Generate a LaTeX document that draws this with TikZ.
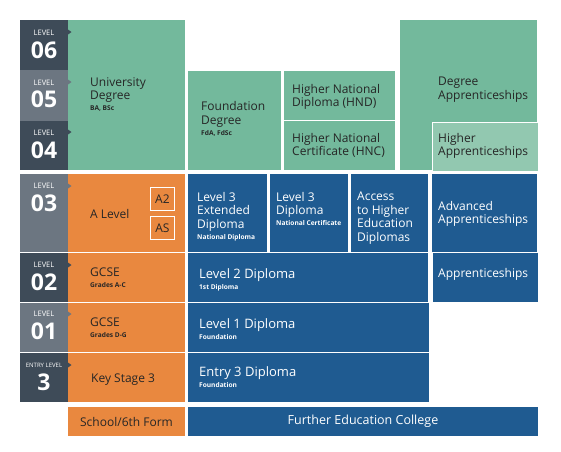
\documentclass[tikz,border=0pt]{standalone}
\usepackage{fontspec}
\setmainfont{Open Sans}
\definecolor{lvdark}{HTML}{3E4B58}
\definecolor{lvlight}{HTML}{6C7681}
\definecolor{grn}{HTML}{73B99C}
\definecolor{grnl}{HTML}{92C8B0}
\definecolor{org}{HTML}{E9883F}
\definecolor{blu}{HTML}{1F5B91}
\definecolor{txt}{HTML}{262626}
\newcommand\subl[1]{{\fontsize{6.6}{7}\selectfont\bfseries #1}}
\tikzset{
  blkbox/.style={anchor=north west, inner sep=0pt, outer sep=0pt, draw=none},
  tdark/.style={anchor=north west, inner sep=0pt, align=left, text=txt, font=\fontsize{12}{13.5}\selectfont},
  twhite/.style={anchor=north west, inner sep=0pt, align=left, text=white, font=\fontsize{12}{13.5}\selectfont},
  lvword/.style={text=white, inner sep=0pt, font=\fontsize{7.5}{8}\selectfont},
  lvnum/.style={text=white, inner sep=0pt, font=\fontsize{23}{24}\selectfont\bfseries},
  tagbox/.style={draw=white, line width=0.8pt, inner sep=0pt, minimum width=24pt, minimum height=23pt, anchor=north west, text=txt, font=\fontsize{12}{13}\selectfont},
}
\newcommand\blk[6]{\node[blkbox, fill=#2, minimum width=#5pt-#3pt, minimum height=#6pt-#4pt] (#1) at (#3,#4) {};}
\begin{document}
\begin{tikzpicture}[x=1pt,y=-1pt]
\useasboundingbox (0,0) rectangle (561,451);
% level column
\blk{lv6}{lvdark}{20}{20}{68}{70}
\blk{lv5}{lvlight}{20}{70}{68}{121}
\blk{lv4}{lvdark}{20}{121}{68}{170}
\blk{lv3}{lvlight}{20}{174}{68}{252}
\blk{lv2}{lvdark}{20}{253}{68}{302}
\blk{lv1}{lvlight}{20}{303}{68}{352}
\blk{lve}{lvdark}{20}{353}{68}{402}
% green
\blk{ud}{grn}{68}{20}{185}{170}
\blk{fd}{grn}{188}{71}{281}{170}
\blk{hnd}{grn}{284}{71}{395}{120}
\blk{hnc}{grn}{284}{121}{395}{170}
\blk{da}{grn}{400}{20}{537}{170}
\node[blkbox, fill=grnl, draw=white, line width=1pt, minimum width=106pt, minimum height=49pt] (ha) at (432,122) {};
% orange
\blk{al}{org}{68}{174}{185}{252}
\blk{gc2}{org}{68}{253}{185}{302}
\blk{gc1}{org}{68}{303}{185}{352}
\blk{ks3}{org}{68}{353}{185}{402}
\blk{sch}{org}{68}{407}{185}{436}
% blue
\blk{l3e}{blu}{188}{174}{267}{252}
\blk{l3d}{blu}{270}{174}{348}{252}
\blk{acc}{blu}{351}{174}{428}{252}
\blk{adv}{blu}{432}{174}{537}{252}
\blk{l2}{blu}{188}{253}{428}{302}
\blk{app}{blu}{433}{253}{538}{302}
\blk{l1}{blu}{188}{303}{429}{352}
\blk{e3}{blu}{188}{353}{429}{402}
\blk{fec}{blu}{188}{407}{538}{436}
% level pointers
\fill[lvdark] (68,29.5) -- (71.5,32) -- (68,34.5) -- cycle;
\fill[lvlight] (68,79.5) -- (71.5,82) -- (68,84.5) -- cycle;
\fill[lvdark] (68,129.5) -- (71.5,132) -- (68,134.5) -- cycle;
\fill[lvlight] (68,183.5) -- (71.5,186) -- (68,188.5) -- cycle;
\fill[lvdark] (68,262.5) -- (71.5,265) -- (68,267.5) -- cycle;
\fill[lvlight] (68,311.5) -- (71.5,314) -- (68,316.5) -- cycle;
\fill[lvdark] (68,362.5) -- (71.5,365) -- (68,367.5) -- cycle;
% level labels
\node[lvword] (w6) at (44,33) {LEVEL};
\node[lvnum] (n6) at (44,50) {06};
\node[lvword] (w5) at (44,83) {LEVEL};
\node[lvnum] (n5) at (44,99) {05};
\node[lvword] (w4) at (44,133) {LEVEL};
\node[lvnum] (n4) at (44,150) {04};
\node[lvword] (w3) at (44,186) {LEVEL};
\node[lvnum] (n3) at (44,203) {03};
\node[lvword] (w2) at (44,265) {LEVEL};
\node[lvnum] (n2) at (44,282) {02};
\node[lvword] (w1) at (44,314) {LEVEL};
\node[lvnum] (n1) at (44,331) {01};
\node[lvword, font=\fontsize{6}{7}\selectfont] (we) at (44,365) {ENTRY LEVEL};
\node[lvnum] (ne) at (44,382) {3};
% green texts
\node[tdark] (udt) at (90,77) {University\\Degree\\[-2.5pt]\subl{BA, BSc}};
\node[tdark] (fdt) at (201,101.5) {Foundation\\Degree\\[-2.5pt]\subl{FdA, FdSc}};
\node[tdark] (hndt) at (292,84) {Higher National\\Diploma (HND)};
\node[tdark] (hnct) at (292,133) {Higher National\\Certificate (HNC)};
\node[tdark] (dat) at (438,77) {Degree\\Apprenticeships};
\node[tdark] (hat) at (438,133) {Higher\\Apprenticeships};
% orange texts
\node[tdark] (alt) at (90,209) {A Level};
\node[tagbox] (a2) at (150,187) {A2};
\node[tagbox] (as) at (150,216) {AS};
\node[tdark] (gc2t) at (90,268) {GCSE\\[-2.5pt]\subl{Grades A-C}};
\node[tdark] (gc1t) at (90,318) {GCSE\\[-2.5pt]\subl{Grades D-G}};
\node[tdark] (ks3t) at (91,374) {Key Stage 3};
\node[text=txt, inner sep=0pt, font=\fontsize{12}{13}\selectfont] (scht) at (sch) {School/6th Form};
% blue texts
\node[twhite] (l3et) at (197,192) {Level 3\\Extended\\Diploma\\[-2.5pt]\subl{National Diploma}};
\node[twhite] (l3dt) at (276,192) {Level 3\\Diploma\\[-2.5pt]\subl{National Certificate}};
\node[twhite] (acct) at (357,192) {Access\\to Higher\\Education\\Diplomas};
\node[twhite] (advt) at (438,201) {Advanced\\Apprenticeships};
\node[twhite] (appt) at (438,268) {Apprenticeships};
\node[twhite, font=\fontsize{13}{14}\selectfont] (l2t) at (199,268) {Level 2 Diploma\\[-3pt]\subl{1st Diploma}};
\node[twhite, font=\fontsize{13}{14}\selectfont] (l1t) at (199,318) {Level 1 Diploma\\[-3pt]\subl{Foundation}};
\node[twhite, font=\fontsize{13}{14}\selectfont] (e3t) at (199,366) {Entry 3 Diploma\\[-3pt]\subl{Foundation}};
\node[text=white, inner sep=0pt, font=\fontsize{12.5}{14}\selectfont] (fect) at (fec) {Further Education College};
\end{tikzpicture}
\end{document}
